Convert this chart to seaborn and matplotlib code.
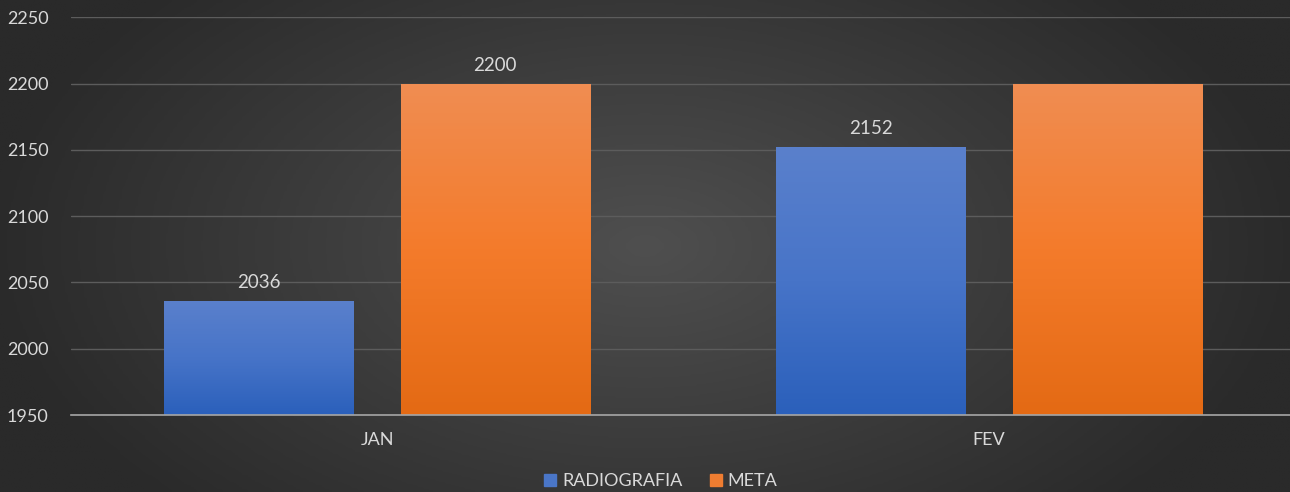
import matplotlib
matplotlib.use("Agg")
import matplotlib.pyplot as plt
from matplotlib.colors import LinearSegmentedColormap
import seaborn as sns
import numpy as np
import pandas as pd

# data
months = ["JAN", "FEV"]
radiografia = [2036, 2152]
meta = [2200, 2200]
labels_radiografia = ["2036", "2152"]
labels_meta = ["2200", ""]

df = pd.DataFrame({
    "mes": months * 2,
    "valor": radiografia + meta,
    "serie": ["RADIOGRAFIA"] * len(months) + ["META"] * len(months),
})

sns.set_theme(style="dark")
plt.rcParams["font.family"] = ["Lato", "DejaVu Sans"]

text_color = "#d9d9d9"
blue = "#4472c4"
orange = "#ed7d31"

fig = plt.figure(figsize=(12.9, 4.92), dpi=100)

# radial background like the Excel dark style
bg = fig.add_axes([0, 0, 1, 1], zorder=0)
yy, xx = np.mgrid[0:1:200j, 0:1:400j]
r = np.sqrt(((xx - 0.5) / 0.6) ** 2 + ((yy - 0.5) / 0.9) ** 2)
bg_cmap = LinearSegmentedColormap.from_list("bg", ["#4f4f4f", "#2a2a2a"])
bg.imshow(r, cmap=bg_cmap, aspect="auto", extent=[0, 1, 0, 1], vmin=0, vmax=0.85)
bg.set_axis_off()

ax = fig.add_axes([0.055, 0.1565, 0.949, 0.8085], zorder=1)
ax.patch.set_alpha(0)

sns.barplot(data=df, x="mes", y="valor", hue="serie", palette=[blue, orange],
            width=0.772, gap=0.2, ax=ax, legend=True)

ax.set_ylim(1950, 2250)
ax.set_xlim(-0.5, 1.5)
ax.set_yticks(range(1950, 2251, 50))
ax.set_xlabel("")
ax.set_ylabel("")
ax.grid(axis="y", color="#5c5c5c", linewidth=1.0)
ax.grid(axis="x", visible=False)
ax.set_axisbelow(True)
for side in ["top", "right", "left"]:
    ax.spines[side].set_visible(False)
ax.spines["bottom"].set_color("#a6a6a6")
ax.spines["bottom"].set_linewidth(1.2)
ax.tick_params(axis="both", colors=text_color, labelsize=13, length=0)
ax.tick_params(axis="y", pad=16)
ax.tick_params(axis="x", pad=12)

# gradient fill inside each bar
grad = np.linspace(0, 1, 100).reshape(-1, 1)
cmaps = {
    0: LinearSegmentedColormap.from_list("b", ["#2b60bb", "#4774c8", "#5a80cc"]),
    1: LinearSegmentedColormap.from_list("o", ["#e46a14", "#f47b2b", "#f08d52"]),
}
for i, container in enumerate(ax.containers):
    for patch in container:
        x0, y0 = patch.get_x(), patch.get_y()
        w, h = patch.get_width(), patch.get_height()
        patch.set_facecolor("none")
        patch.set_edgecolor("none")
        im = ax.imshow(grad, cmap=cmaps[i], aspect="auto", origin="lower",
                       extent=[x0, x0 + w, 1950, y0 + h], zorder=2)
        im.set_clip_path(patch)
ax.set_xlim(-0.5, 1.5)
ax.set_ylim(1950, 2250)

ax.bar_label(ax.containers[0], labels=labels_radiografia, padding=7,
             color=text_color, fontsize=13.5)
ax.bar_label(ax.containers[1], labels=labels_meta, padding=7,
             color=text_color, fontsize=13.5)

handles = [plt.Rectangle((0, 0), 1, 1, color=c) for c in ["#4a76c8", "#ef7d31"]]
ax.legend(handles, ["RADIOGRAFIA", "META"], loc="lower center",
          bbox_to_anchor=(0.482, -0.205), ncol=2, frameon=False,
          labelcolor=text_color, fontsize=13, handlelength=0.65,
          handleheight=0.65, handletextpad=0.35, columnspacing=1.5,
          borderaxespad=0)

fig.savefig("out.png", dpi=100, facecolor="#333333")
